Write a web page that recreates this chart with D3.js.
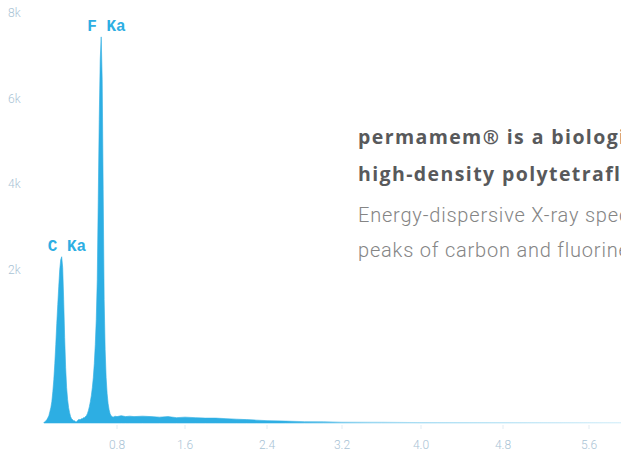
<!DOCTYPE html>
<html>
<head>
<meta charset="utf-8">
<script src="https://cdn.jsdelivr.net/npm/d3@7"></script>
<style>
  body { margin: 0; background: #fff; }
  svg { display: block; }
</style>
</head>
<body>
<div id="chart"></div>
<script>
// EDX spectrum, energy in keV, counts
var energyKeV = [
  0.06, 0.07, 0.08, 0.09, 0.10, 0.11, 0.12, 0.13, 0.14, 0.15,
  0.16, 0.17, 0.18, 0.19, 0.20, 0.21, 0.22, 0.23, 0.24, 0.25,
  0.26, 0.27, 0.28, 0.29, 0.30, 0.31, 0.32, 0.33, 0.34, 0.35,
  0.36, 0.37, 0.38, 0.39, 0.40, 0.41, 0.42, 0.43, 0.44, 0.45,
  0.46, 0.47, 0.48, 0.49, 0.50, 0.51, 0.52, 0.53, 0.54, 0.55,
  0.56, 0.57, 0.58, 0.59, 0.60, 0.61, 0.62, 0.63, 0.64, 0.65,
  0.66, 0.67, 0.68, 0.69, 0.70, 0.71, 0.72, 0.73, 0.74, 0.75,
  0.76, 0.78, 0.80, 0.85, 0.90, 0.95, 1.00, 1.10, 1.20, 1.30,
  1.40, 1.50, 1.60, 1.70, 1.80, 1.90, 2.00, 2.10, 2.20, 2.30,
  2.40, 2.60, 2.80, 3.00, 3.20, 3.60, 4.00, 4.80, 5.60, 6.40
];
var counts = [
  -1571, -1548, -1525, -1501, -1455, -1408, -1315, -1221, -1081, -848,
  -567, -194, 250, 740, 1184, 1604, 2001, 2235, 2305, 2048,
  1303, 416, -287, -754, -1034, -1221, -1338, -1431, -1478, -1501,
  -1525, -1525, -1548, -1548, -1525, -1501, -1501, -1501, -1478, -1478,
  -1455, -1455, -1431, -1408, -1361, -1291, -1198, -1081, -941, -754,
  -521, -194, 250, 834, 1768, 3636, 5504, 6905, 7442, 6438,
  3869, 1301, 133, -521, -894, -1128, -1268, -1361, -1408, -1431,
  -1443, -1420, -1431, -1408, -1431, -1420, -1431, -1420, -1431, -1443,
  -1431, -1455, -1443, -1455, -1466, -1466, -1478, -1490, -1501, -1513,
  -1525, -1536, -1548, -1548, -1560, -1560, -1571, -1571, -1571, -1571
];

var peakLabels = ["C Ka", "F Ka"];
var peakEnergies = [0.24, 0.64];

var xTicks = [0.8, 1.6, 2.4, 3.2, 4.0, 4.8, 5.6];
var yTicks = [2000, 4000, 6000, 8000];

var textBold = [
  "permamem\u00ae is a biologically inert,",
  "high-density polytetrafluoroethylene"
];
var textLight = [
  "Energy-dispersive X-ray spectroscopy shows the",
  "peaks of carbon and fluorine only."
];

var width = 621,
    height = 453;

var svg = d3.select("#chart")
    .append("svg")
    .attr("width", width)
    .attr("height", height);

// energy axis of the original is not evenly spaced, so calibrate per label
var x = d3.scaleLinear()
    .domain([0, 0.8, 1.6, 2.4, 3.2, 4.0, 4.8, 5.6, 6.4])
    .range([38, 117, 185, 267, 342, 421, 503, 589, 670]);

var y = d3.scaleLinear()
    .domain([-1580, 8000])
    .range([423, 13]);

var data = energyKeV.map(function(e, i) { return { e: e, c: counts[i] }; });

var defs = svg.append("defs");
var grad = defs.append("linearGradient")
    .attr("id", "tail")
    .attr("gradientUnits", "userSpaceOnUse")
    .attr("x1", 0).attr("x2", width)
    .attr("y1", 0).attr("y2", 0);
grad.append("stop").attr("offset", 0).attr("stop-color", "#2daee3");
grad.append("stop").attr("offset", 0.45).attr("stop-color", "#2daee3");
grad.append("stop").attr("offset", 0.6).attr("stop-color", "#8fd3f0");
grad.append("stop").attr("offset", 1).attr("stop-color", "#d4eef9");

// y labels
svg.append("g")
    .selectAll("text")
    .data(yTicks)
    .enter()
    .append("text")
    .attr("x", 8)
    .attr("y", function(d) { return y(d); })
    .attr("dy", "0.35em")
    .style("font-family", "Roboto, Liberation Sans, sans-serif")
    .style("font-weight", "300")
    .style("font-size", "12px")
    .style("fill", "#a9c3d5")
    .text(function(d) { return (d / 1000) + "k"; });

// x labels
svg.append("g")
    .selectAll("text")
    .data(xTicks)
    .enter()
    .append("text")
    .attr("x", function(d) { return x(d); })
    .attr("y", 445)
    .attr("dy", "0.35em")
    .attr("text-anchor", "middle")
    .style("font-family", "Roboto, Liberation Sans, sans-serif")
    .style("font-weight", "300")
    .style("font-size", "12px")
    .style("fill", "#a9c3d5")
    .text(function(d) { return d3.format(".1f")(d); });

// small tick marks under the baseline
svg.append("g")
    .selectAll("line")
    .data(xTicks)
    .enter()
    .append("line")
    .attr("x1", function(d) { return x(d); })
    .attr("x2", function(d) { return x(d); })
    .attr("y1", y(-1580) + 2)
    .attr("y2", y(-1580) + 6)
    .style("stroke", "#e2edf3")
    .style("stroke-width", 1);

var area = d3.area()
    .x(function(d) { return x(d.e); })
    .y0(y(-1580))
    .y1(function(d) { return y(d.c); })
    .curve(d3.curveLinear);

svg.append("path")
    .datum(data)
    .attr("d", area)
    .style("fill", "url(#tail)")
    .style("stroke", "url(#tail)")
    .style("stroke-width", 0.6);

// peak labels
svg.append("g")
    .selectAll("text")
    .data(peakLabels)
    .enter()
    .append("text")
    .attr("x", function(d, i) { return x(peakEnergies[i]) - 14; })
    .attr("y", function(d, i) { return y(counts[energyKeV.indexOf(peakEnergies[i])]) - 6; })
    .style("font-family", "Courier New, Liberation Mono, monospace")
    .style("font-weight", "bold")
    .style("font-size", "16px")
    .style("fill", "#2daee3")
    .text(function(d) { return d; });

// description text
var desc = svg.append("g");
desc.selectAll("text.b")
    .data(textBold)
    .enter()
    .append("text")
    .attr("class", "b")
    .attr("x", 358)
    .attr("y", function(d, i) { return 144 + i * 37; })
    .style("font-family", "Open Sans, Lato, sans-serif")
    .style("font-weight", "bold")
    .style("font-size", "19.5px")
    .style("letter-spacing", "1.4px")
    .style("fill", "#58595b")
    .text(function(d) { return d; });
desc.selectAll("text.l")
    .data(textLight)
    .enter()
    .append("text")
    .attr("class", "l")
    .attr("x", 358)
    .attr("y", function(d, i) { return 222 + i * 35; })
    .style("font-family", "Roboto, Liberation Sans, sans-serif")
    .style("font-weight", "300")
    .style("font-size", "20px")
    .style("letter-spacing", "0.8px")
    .style("fill", "#858585")
    .text(function(d) { return d; });
</script>
</body>
</html>
